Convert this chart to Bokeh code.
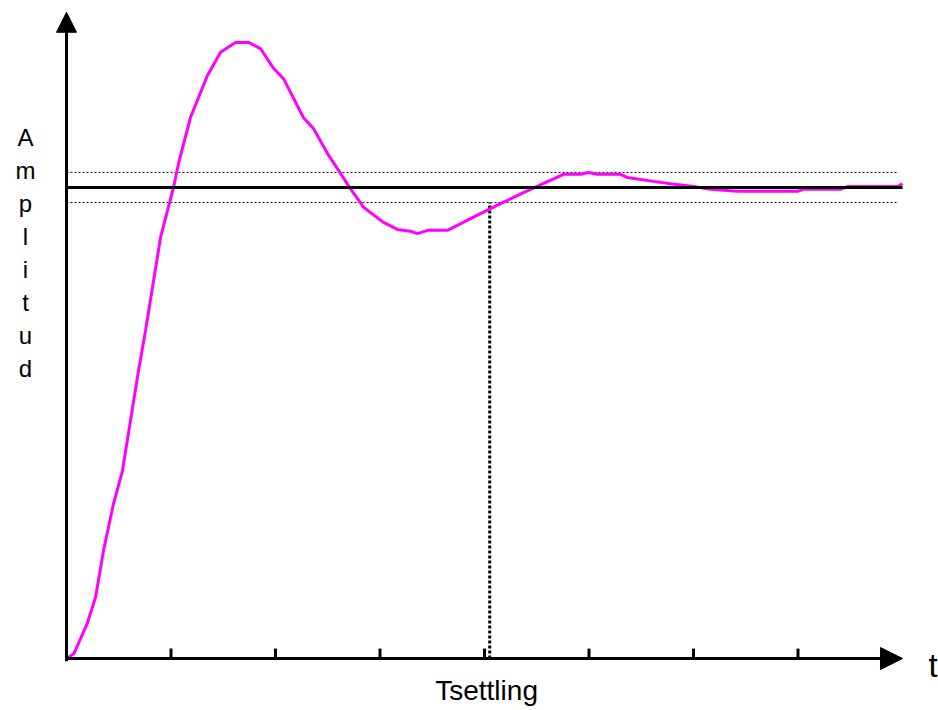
from bokeh.plotting import figure
from bokeh.models import Range1d, Arrow, NormalHead, ColumnDataSource
from bokeh.core.properties import value
from bokeh.embed import file_html
from bokeh.resources import INLINE

# ---- data ----
t_values = [0.0, 0.07, 0.198, 0.278, 0.354, 0.45, 0.536, 0.612, 0.689, 0.756,
            0.9, 1.024, 1.072, 1.187, 1.349, 1.474, 1.617, 1.742, 1.856, 1.981,
            2.077, 2.268, 2.364, 2.498, 2.622, 2.718, 2.813, 2.842, 3.033, 3.167,
            3.292, 3.359, 3.455, 3.646, 3.866, 4.057, 4.249, 4.373, 4.44, 4.756,
            4.919, 4.995, 5.081, 5.301, 5.368, 5.617, 5.78, 6.0, 6.163, 6.421,
            6.995, 7.053, 7.407, 7.474, 7.952, 8.0]
amplitude = [0.0, 0.01, 0.074, 0.13, 0.229, 0.329, 0.399, 0.505, 0.611, 0.696,
             0.894, 1.0, 1.051, 1.149, 1.238, 1.287, 1.308, 1.308, 1.295, 1.253,
             1.231, 1.148, 1.125, 1.072, 1.03, 0.997, 0.968, 0.958, 0.926, 0.911,
             0.907, 0.902, 0.909, 0.909, 0.934, 0.955, 0.976, 0.989, 0.996, 1.028,
             1.028, 1.032, 1.028, 1.028, 1.021, 1.013, 1.008, 1.002, 0.996, 0.992,
             0.992, 0.996, 0.996, 1.002, 1.002, 1.008]
final_value = 1.0
band_upper = 1.032
band_lower = 0.968
band_end = 7.96
settling_time = 4.05
tick_positions = [1, 2, 3, 4, 5, 6, 7]
x_axis_end = 8.0
y_axis_end = 1.372
y_label_letters = ["A", "m", "p", "l", "i", "t", "u", "d"]
x_label = "Tsettling"
t_label = "t"

W, H = 938, 710
p = figure(width=W, height=H, output_backend="svg", toolbar_location=None,
           x_range=Range1d(-0.6316, 8.3445), y_range=Range1d(-0.1104, 1.397),
           min_border=0, outline_line_color=None)
p.axis.visible = False
p.grid.visible = False
p.background_fill_color = "white"
p.border_fill_color = "white"

# tolerance band (dotted)
p.line([0, band_end], [band_upper, band_upper], line_color="black", line_width=1, line_dash="2 2")
p.line([0, band_end], [band_lower, band_lower], line_color="black", line_width=1, line_dash="2 2")

# settling time marker
p.line([settling_time, settling_time], [0, band_lower], line_color="black", line_width=3, line_dash="3 2")

# response curve
src = ColumnDataSource(dict(t=t_values, a=amplitude))
p.line("t", "a", source=src, line_color="#FF00FF", line_width=3)

# final value line
p.line([0, x_axis_end], [final_value, final_value], line_color="black", line_width=3)

# ticks on x axis
p.segment(x0=tick_positions, y0=[0] * len(tick_positions),
          x1=tick_positions, y1=[0.021] * len(tick_positions),
          line_color="black", line_width=3)

# axes with arrows
p.segment(x0=[0], y0=[-0.006], x1=[0], y1=[0], line_color="black", line_width=3)
p.add_layout(Arrow(x_start=0, y_start=0, x_end=x_axis_end, y_end=0, line_width=3,
                   line_color="black",
                   end=NormalHead(size=22, fill_color="black", line_color="black", line_width=1)))
p.add_layout(Arrow(x_start=0, y_start=0, x_end=0, y_end=y_axis_end, line_width=3,
                   line_color="black",
                   end=NormalHead(size=20, fill_color="black", line_color="black", line_width=1)))

# labels
p.text(x=[8.25], y=[-0.0149], text=[t_label], text_font=value("Liberation Sans"),
       text_font_size=value("33px"), text_align="left", text_baseline="alphabetic",
       text_color="black")
p.text(x=[4.02], y=[-0.068], text=[x_label], text_font=value("Liberation Sans"),
       text_font_size=value("28px"), text_align="center", text_baseline="alphabetic",
       text_color="black")

start_y, step_y = 1.106, 0.0699
ys = [start_y - i * step_y for i in range(len(y_label_letters))]
p.text(x=[-0.392] * len(y_label_letters), y=ys, text=y_label_letters,
       text_font=value("Liberation Sans"), text_font_size=value("24px"),
       text_align="center", text_baseline="alphabetic", text_color="black")

open("out.html", "w").write(file_html(p, INLINE))
